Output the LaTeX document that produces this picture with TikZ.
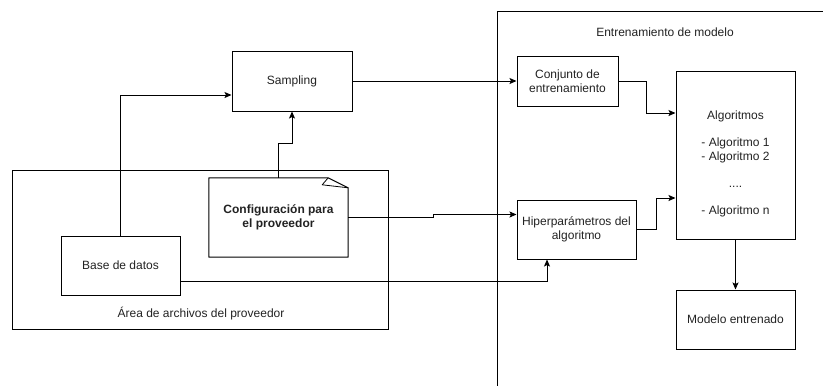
\documentclass[tikz,border=0pt]{standalone}
\usepackage{fontspec}
\setmainfont{Liberation Sans}
\usetikzlibrary{arrows.meta}
\definecolor{inkline}{HTML}{000000}
\definecolor{inktext}{HTML}{222222}
\begin{document}
\begin{tikzpicture}[x=1pt,y=-1pt,
  every node/.style={font=\fontsize{12}{14}\selectfont, text=inktext, align=center, inner sep=0pt},
  box/.style={draw=inkline, line width=1pt, rectangle},
  frame/.style={draw=inkline, line width=1pt},
  arr/.style={draw=inkline, line width=1pt, -{Stealth[length=7pt,width=6pt,inset=1.5pt]}},
  link/.style={draw=inkline, line width=1pt}]
\useasboundingbox (0,0) rectangle (823,386);

% provider file area
\draw[frame] (12,170) rectangle (388,329);
\node (areatitle) at (201,314) {Área de archivos del proveedor};

% model training area (runs past the page edges)
\draw[frame] (497,386) -- (497,11) -- (823,11);
\node (traintitle) at (665,32) {Entrenamiento de modelo};

% boxes
\node[box, minimum width=119pt, minimum height=59pt] (base) at (120.5,265.5) {Base de datos};
\node[box, minimum width=120pt, minimum height=60pt] (sampling) at (292,81) {Sampling};
\node[box, minimum width=101pt, minimum height=50pt] (conj) at (567.5,81) {Conjunto de\\entrenamiento};
\node[box, minimum width=119pt, minimum height=168pt] (algo) at (735.5,155) {};
\node (algotext) at (735.5,164) {Algoritmos\\[13pt]- Algoritmo 1\\- Algoritmo 2\\[13pt]....\\[13pt]- Algoritmo n};
\node[box, minimum width=119pt, minimum height=59pt] (hiper) at (576.5,229.5) {Hiperparámetros del\\algoritmo};
\node[box, minimum width=119pt, minimum height=59pt] (modelo) at (735.5,319.5) {Modelo entrenado};

% configuration note with folded corner
\node[minimum width=139pt, minimum height=79pt, font=\fontsize{12}{13.5}\selectfont\bfseries] (config) at (278.5,217.5) {Configuración para\\el proveedor};
\draw[frame, line join=round] (config.north west) -- ([xshift=-20pt]config.north east)
  -- ([yshift=-10pt]config.north east) -- (config.south east) -- (config.south west) -- cycle;
\draw[draw=inkline, line width=0.8pt, line join=round] ([xshift=-20pt]config.north east)
  -- ([xshift=-26pt,yshift=-7pt]config.north east) -- ([yshift=-10pt]config.north east);

% connectors
\draw[arr] (base.north) |- ([yshift=-14pt]sampling.west);
\draw[arr] (config.north) -- ++(0,-34) -| (sampling.south);
\draw[arr] (sampling.east) -- (conj.west);
\draw[arr] (conj.east) -- ++(28,0) |- ([yshift=42pt]algo.west);
\draw[arr] (hiper.east) -- ++(20,0) |- ([yshift=-43pt]algo.west);
\draw[arr] (config.east) -- ++(85,0) |- ([yshift=15pt]hiper.west);
\draw[arr] ([yshift=-15.5pt]base.east) -| ([xshift=-29.5pt]hiper.south);
\draw[arr] (algo.south) -- (modelo.north);
\end{tikzpicture}
\end{document}
